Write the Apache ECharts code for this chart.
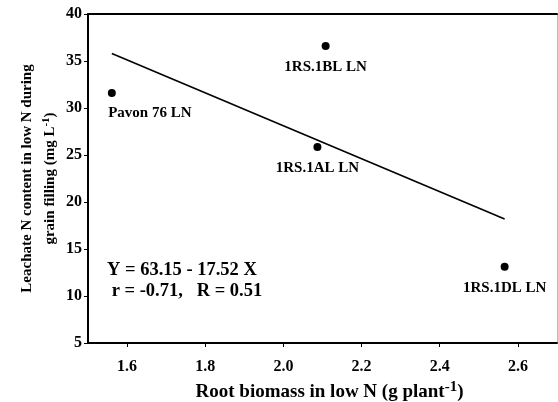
<!DOCTYPE html>
<html><head><meta charset="utf-8">
<script src="https://cdn.jsdelivr.net/npm/echarts@6/dist/echarts.min.js"></script>
<style>html,body{margin:0;padding:0;background:#fff}#c{width:558px;height:402px}</style>
</head><body><div id="c"></div>
<script>
var genotypes = ['Pavon 76 LN', '1RS.1BL LN', '1RS.1AL LN', '1RS.1DL LN'];
var rootBiomass = [1.561, 2.108, 2.087, 2.566];
var leachateN = [31.6, 36.6, 25.85, 13.1];
var fitIntercept = 63.15, fitSlope = -17.52;
var xTicks = [1.6, 1.8, 2.0, 2.2, 2.4, 2.6];
var yTicks = [5, 10, 15, 20, 25, 30, 35, 40];
var eqLines = ['Y = 63.15 - 17.52 X', ' r = -0.71,   R = 0.51'];

var FONT = '"Liberation Serif", "Times New Roman", serif';
var xMinData = Math.min.apply(null, rootBiomass), xMaxData = Math.max.apply(null, rootBiomass);
var fitLine = [[xMinData, fitIntercept + fitSlope * xMinData], [xMaxData, fitIntercept + fitSlope * xMaxData]];
var labelPos = ['bottom', 'bottom', 'bottom', 'bottom'];
var labelOffsets = [[38, 3], [0, 4], [0, 4], [0, 4]];

var chart = echarts.init(document.getElementById('c'), null, {renderer: 'canvas'});
chart.setOption({
  animation: false,
  backgroundColor: '#fff',
  grid: {left: 88, top: 14, right: 1, bottom: 59, containLabel: false, outerBoundsMode: 'none'},
  xAxis: [{
    type: 'value', min: 1.5, max: 2.7,
    axisLine: {lineStyle: {color: '#000', width: 2}},
    axisTick: {show: true, length: 4, customValues: xTicks, lineStyle: {color: '#000', width: 1}},
    axisLabel: {customValues: xTicks, margin: 16, color: '#000', fontFamily: FONT, fontWeight: 'bold', fontSize: 16,
      formatter: function (v) { return v.toFixed(1); }},
    splitLine: {show: false},
    name: 'Root biomass in low N (g plant{sup|-1})', nameLocation: 'middle', nameGap: 29,
    nameTextStyle: {color: '#000', fontFamily: FONT, fontWeight: 'bold', fontSize: 19, padding: [0, 0, 0, 14],
      rich: {sup: {fontFamily: FONT, fontWeight: 'bold', fontSize: 15, color: '#000', padding: [0, 0, 9, 0]}}}
  }, {
    type: 'value', min: 1.5, max: 2.7, position: 'top',
    axisLine: {show: true, onZero: false, lineStyle: {color: '#000', width: 2}},
    axisTick: {show: false}, axisLabel: {show: false}, splitLine: {show: false}
  }],
  yAxis: [{
    type: 'value', min: 5, max: 40, interval: 5,
    axisLine: {show: true, lineStyle: {color: '#000', width: 2}},
    axisTick: {show: true, length: 4, lineStyle: {color: '#000', width: 1}},
    axisLabel: {margin: 6, color: '#000', fontFamily: FONT, fontWeight: 'bold', fontSize: 16},
    splitLine: {show: false},
    name: 'Leachate N content in low N during\ngrain filling (mg L{sup|-1})', nameLocation: 'middle', nameRotate: 90,
    nameGap: 26, nameMoveOverlap: false,
    nameTextStyle: {color: '#000', fontFamily: FONT, fontWeight: 'bold', fontSize: 15, lineHeight: 23,
      rich: {sup: {fontFamily: FONT, fontWeight: 'bold', fontSize: 11, color: '#000', padding: [0, 0, 8, 0]}}}
  }, {
    type: 'value', min: 5, max: 40, position: 'right',
    axisLine: {show: true, onZero: false, lineStyle: {color: '#bbb', width: 1}},
    axisTick: {show: false}, axisLabel: {show: false}, splitLine: {show: false}
  }],
  series: [{
    type: 'line', data: fitLine, symbol: 'none', lineStyle: {color: '#000', width: 1.6}, silent: true
  }, {
    type: 'scatter', symbol: 'circle', symbolSize: 8, itemStyle: {color: '#000', opacity: 1},
    data: rootBiomass.map(function (x, i) {
      return {value: [x, leachateN[i]], name: genotypes[i],
        label: {show: true, position: labelPos[i], offset: labelOffsets[i], distance: 6, formatter: genotypes[i],
          color: '#000', fontFamily: FONT, fontWeight: 'bold', fontSize: 15}};
    })
  }],
  graphic: [{
    type: 'text', left: 107, top: 260,
    style: {text: eqLines.join('\n'), fill: '#000', font: 'bold 18.5px ' + FONT, lineHeight: 21, textAlign: 'left'}
  }]
});
</script></body></html>
